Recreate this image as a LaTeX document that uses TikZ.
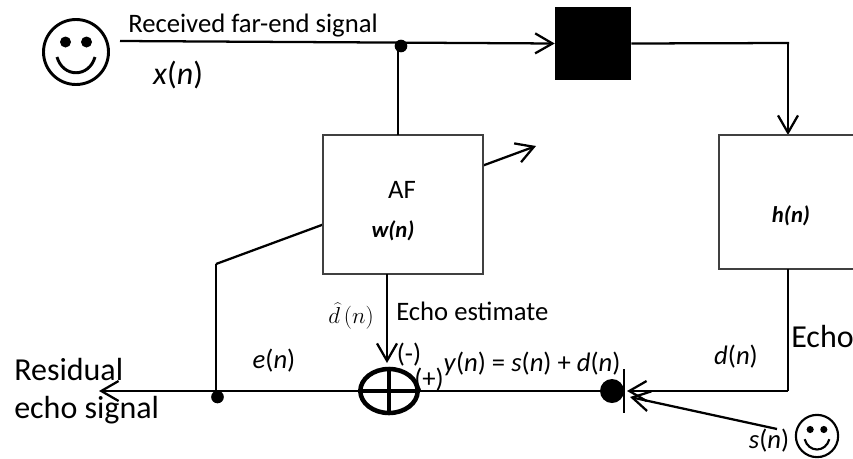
\documentclass[tikz,border=0pt]{standalone}
\usepackage{fontspec}
\setmainfont{Carlito}
\usepackage{tikz}
\usetikzlibrary{arrows.meta, shapes.geometric}

\newcommand{\lbl}[1]{\fontsize{#1}{#1}\selectfont}

\tikzset{
  wire/.style={line width=1.7pt},
  sig/.style={wire, -{Straight Barb[length=13pt,width=15pt,line width=1.7pt]}},
  blockbox/.style={draw=black!75, line width=0.8pt, fill=white, inner sep=0pt},
  junction/.style={circle, fill=black, inner sep=0pt},
  txt/.style={inner sep=0pt, anchor=base, font=\lbl{20}},
  pics/smiley/.style={code={
    \draw[line width=#1, fill=white] (0,0) circle (32.5);
    \fill (-10.5,-10) circle (5.5);
    \fill (10.5,-10) circle (5.5);
    \draw[line width=#1] (-19,5) .. controls (-13,26) and (13,26) .. (19,5);
  }},
}

\begin{document}
\begin{tikzpicture}[x=0.75pt, y=-0.75pt]
  \useasboundingbox (0,0) rectangle (853,458);
  % far-end side
  \pic at (76,52) {smiley=2.2pt};
  \coordinate (farstart) at (120,41);
  \coordinate (hcorner) at (788,43);
  \coordinate (hin) at (788,135);
  \node[fill=black, minimum width=57pt, minimum height=54.75pt, inner sep=0pt] (blackbox) at (593,43.5) {};
  \node[junction, minimum size=9.5pt] (xdot) at (401,46) {};
  \coordinate (afin) at (398,46);
  \draw[sig] (farstart) -- (blackbox.west);
  \draw[wire] (blackbox.east) -- (hcorner) -- ++(0,1);
  \draw[sig] (hcorner) -- (hin);
  % adaptation path, runs behind the filter box
  \coordinate (ebend) at (216,264);
  \coordinate (adapttip) at (536,146);
  \node[junction, minimum size=9.5pt] (edot) at (217.5,397) {};
  \draw[sig] (ebend) -- (adapttip);
  \draw[wire] (edot.center) ++(-1.5,0) -- (ebend);
  % filter blocks
  \node[blockbox, minimum width=120pt, minimum height=104.25pt] (afbox) at (403,204.5) {};
  \node[blockbox, minimum width=120.75pt, minimum height=100.5pt] (hbox) at (799.5,202) {};
  \draw[wire] (afin) -- (398,135);
  % adder and the bottom line
  \node[draw, ellipse, line width=3.4pt, minimum width=43pt, minimum height=33pt, inner sep=0pt] (adder) at (389,391) {};
  \coordinate (resend) at (99,391);
  \coordinate (sumin) at (627,391);
  \coordinate (hout) at (788,269);
  \coordinate (dcorner) at (788,391);
  \coordinate (nearstart) at (777,429);
  \coordinate (neartip) at (630,397);
  \coordinate (bartop) at (624,369);
  \coordinate (barbot) at (624,413);
  \node[junction, minimum size=18pt] (ydot) at (612,391) {};
  \draw[sig] (ydot.center) -- (resend);
  \draw[wire, line width=3pt] (adder.north) -- (adder.south);
  \draw[wire, line width=3pt] (adder.west) -- (adder.east);
  \draw[wire] (hout) -- (dcorner);
  \draw[sig] (dcorner) -- (sumin);
  \draw[sig] (nearstart) -- (neartip);
  \draw[line width=1.1pt] (bartop) -- (barbot);
  \draw[sig] (387,274) -- (387,363);
  \pic[scale=0.65] at (817,436) {smiley=1.6pt};
  % labels
  \node[txt, anchor=base west] (farlabel) at (128,32) {Received far-end signal};
  \node[txt, font=\lbl{24}] (xlabel) at (178,84) {\textit{x}(\textit{n})};
  \node[txt] (aflabel) at (402,198) {AF};
  \node[txt, font=\lbl{17}\bfseries\itshape] (wlabel) at (393,237) {w(n)};
  \node[txt, font=\lbl{17}\bfseries\itshape] (hlabel) at (791,222) {h(n)};
  \node[txt, font=\lbl{24}, anchor=base west] (echolabel) at (791,347) {Echo};
  \node[txt, anchor=base west] (estlabel) at (396,320) {Echo estimate};
  \node[txt, font=\fontspec{Liberation Serif}\lbl{16.5}] (dhat) at (351,323) {$\widehat{d}\,(n)$};
  \node[txt] (elabel) at (274,368) {\textit{e}(\textit{n})};
  \node[txt] (minuslabel) at (409,362) {(-)};
  \node[txt] (pluslabel) at (429,387) {(+)};
  \node[txt] (ylabel) at (532,371) {\textit{y}(\textit{n}) = \textit{s}(\textit{n}) + \textit{d}(\textit{n})};
  \node[txt] (dlabel) at (736,364) {\textit{d}(\textit{n})};
  \node[txt] (slabel) at (769,448) {\textit{s}(\textit{n})};
  \node[txt, font=\lbl{24}, anchor=base west] (reslabel) at (14,380) {Residual};
  \node[txt, font=\lbl{24}, anchor=base west] (sigfoot) at (14,418) {echo signal};
\end{tikzpicture}
\end{document}
